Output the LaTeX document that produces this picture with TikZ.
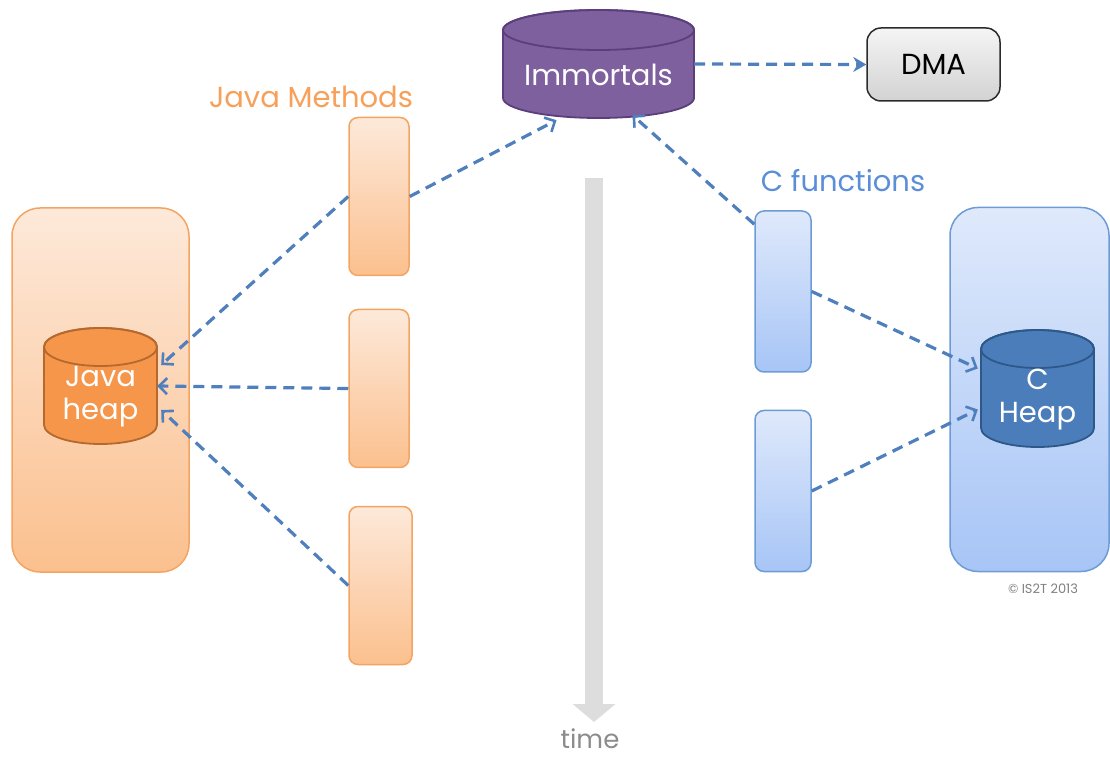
\documentclass[tikz,border=0pt]{standalone}
\usepackage{fontspec}
\setmainfont{Poppins}
\usetikzlibrary{arrows.meta,calc}

\definecolor{immfill}{HTML}{7F609F}
\definecolor{immline}{HTML}{5B3F7C}
\definecolor{dmaline}{HTML}{2B2B2B}
\definecolor{javatext}{HTML}{F6A05A}
\definecolor{javaline}{HTML}{F4A462}
\definecolor{javatop}{HTML}{FDE9DA}
\definecolor{javabot}{HTML}{FBC08E}
\definecolor{jheapfill}{HTML}{F5964B}
\definecolor{jheapline}{HTML}{B5692F}
\definecolor{ctext}{HTML}{5B8ED8}
\definecolor{cline}{HTML}{6D9BD5}
\definecolor{ctop}{HTML}{DFE9FB}
\definecolor{cbot}{HTML}{A7C5F6}
\definecolor{cheapfill}{HTML}{4B7DBB}
\definecolor{cheapline}{HTML}{2E5889}
\definecolor{link}{HTML}{4F7FBC}
\definecolor{timegray}{HTML}{DDDDDD}

% database cylinder: name, centre x, top y, bottom y, x radius, y radius, fill, outline
\newcommand\dbcylinder[8]{%
  \path[fill=#7,draw=#8,line width=1.8pt]
    ({#2-#5},{#3-#6}) -- ({#2-#5},{#4+#6})
    arc[start angle=180,end angle=360,x radius=#5,y radius=#6]
    -- ({#2+#5},{#3-#6})
    arc[start angle=0,end angle=180,x radius=#5,y radius=#6] -- cycle;
  \draw[#8,line width=1.8pt] ({#2},{#3-#6}) ellipse[x radius=#5,y radius=#6];
  \node[inner sep=0pt,minimum width={2*#5},minimum height={#3-#4}] (#1) at ({#2},{(#3+#4)/2}) {};
}

\tikzset{
  javabox/.style={draw=javaline,line width=1.5pt,top color=javatop,bottom color=javabot,inner sep=0pt},
  cbox/.style={draw=cline,line width=1.5pt,top color=ctop,bottom color=cbot,inner sep=0pt},
  frame/.style={rounded corners=28pt,minimum width=#1,minimum height=364},
  bar/.style={rounded corners=9pt,minimum width=#1,minimum height=158},
  ref/.style={draw=link,line width=3.2pt,dash pattern=on 11pt off 7pt,
    -{Straight Barb[length=8pt,width=16pt,line width=2.6pt]}},
  reffill/.style={draw=link,line width=3.2pt,dash pattern=on 11pt off 7pt,
    -{Stealth[length=13pt,width=15pt]}},
  big/.style={font=\fontsize{29}{33}\selectfont},
}

\begin{document}
\begin{tikzpicture}[x=1pt,y=1pt]
\useasboundingbox (0,0) rectangle (1110,758);

% time axis
\coordinate (ttop) at (594,580);
\coordinate (tbot) at (594,36);
\draw[timegray,line width=18pt,-{Triangle[width=42pt,length=18pt]}] (ttop) -- (tbot);
\node[font=\fontsize{26}{28}\selectfont,text=gray!90,inner sep=0pt] (time) at (590,19) {time};

% Java side
\node[javabox,frame=177] (jframe) at (100.5,368) {};
\dbcylinder{jheap}{100.5}{430}{314}{56.5}{19}{jheapfill}{jheapline}
\node[big,text=white,align=center] (jheaptxt) at (100.5,361) {Java\\heap};

\node[big,text=javatext] (jmlabel) at (311,661) {Java Methods};
\node[javabox,bar=60] (m1) at (379,561.5) {};
\node[javabox,bar=60] (m2) at (379,369.5) {};
\node[javabox,bar=63] (m3) at (380.5,172.5) {};

% C side
\node[cbox,frame=159] (cframe) at (1029.5,368.5) {};
\dbcylinder{cheap}{1037.5}{428}{311}{56.5}{19}{cheapfill}{cheapline}
\node[big,text=white,align=center] (cheaptxt) at (1037.5,358) {C\\Heap};

\node[big,text=ctext] (cflabel) at (843,577) {C functions};
\node[cbox,bar=56,minimum height=161] (c1) at (783,466.5) {};
\node[cbox,bar=56,minimum height=161] (c2) at (783,267) {};

\node[text=gray,font=\fontsize{13}{15}\selectfont] (copy) at (1043,169) {© IS2T 2013};

% immortals and DMA
\dbcylinder{imm}{598.5}{748}{640}{95.5}{20}{immfill}{immline}
\node[big,text=white] (immtxt) at (598.5,683) {Immortals};
\node[draw=dmaline,line width=1.5pt,rounded corners=14pt,top color=gray!8,bottom color=gray!35,
  minimum width=133,minimum height=73,big] (dma) at (933.5,693.5) {DMA};

% references
\draw[ref] (m1.west) -- ($(jheap.east)+(4,21)$);
\draw[ref] (m2.west) -- (jheap.east);
\draw[ref] (m3.west) -- ($(jheap.east)+(4,-24)$);
\draw[ref] (m1.east) -- ($(imm.south)+(-42,-2)$);
\draw[ref] ($(c1.north west)+(0,-14)$) -- ($(imm.south)+(34,3)$);
\draw[ref] (c1.east) -- ($(cheap.west)+(-3,20)$);
\draw[ref] (c2.east) -- ($(cheap.west)+(-3,-21)$);
\draw[reffill] (imm.east) -- (dma.west);
\end{tikzpicture}
\end{document}
